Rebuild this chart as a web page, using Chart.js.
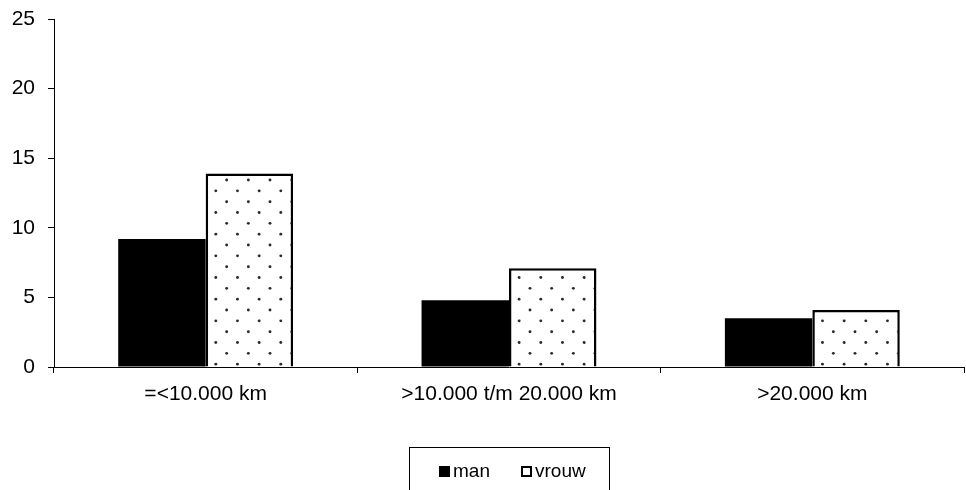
<!DOCTYPE html>
<html>
<head>
<meta charset="utf-8">
<script src="https://cdn.jsdelivr.net/npm/chart.js@4/dist/chart.umd.min.js"></script>
<style>
  html, body { margin: 0; padding: 0; background: #fff; }
  #wrap { width: 966px; height: 490px; position: relative; }
</style>
</head>
<body>
<div id="wrap"><canvas id="c" width="966" height="490"></canvas></div>
<script>
// Afstandsklassen en waarden per geslacht
const categories = ['=<10.000 km', '>10.000 t/m 20.000 km', '>20.000 km'];
const manValues = [9.2, 4.8, 3.5];
const vrouwValues = [13.9, 7.1, 4.1];
const seriesNames = ['man', 'vrouw'];
const yTicks = [0, 5, 10, 15, 20, 25];

const FONT = '"Liberation Sans", Arial, Helvetica, sans-serif';

// Dotted fill for the "vrouw" bars: staggered grid of small dots
function dotPattern() {
  const size = 65, step = size / 3;
  const t = document.createElement('canvas');
  t.width = size; t.height = size;
  const g = t.getContext('2d');
  g.fillStyle = '#fff';
  g.fillRect(0, 0, size, size);
  g.fillStyle = '#2a2a2a';
  const dot = (x, y) => {
    g.beginPath();
    g.arc(x, y, 1.45, 0, Math.PI * 2);
    g.fill();
  };
  for (let i = -1; i <= 3; i++) {
    for (let j = -1; j <= 3; j++) {
      dot(10.0 + i * step, 6.7 + j * step);
      dot(20.8 + i * step, 17.5 + j * step);
    }
  }
  return g.createPattern(t, 'repeat');
}

const ctx = document.getElementById('c').getContext('2d');

// Boxed legend below the plot, drawn from the dataset labels
const boxedLegend = {
  id: 'boxedLegend',
  afterDraw(chart) {
    const c = chart.ctx;
    const ds = chart.data.datasets;
    c.save();
    c.strokeStyle = '#000';
    c.lineWidth = 1;
    c.strokeRect(409.5, 447.5, 200, 60);
    c.font = '19px ' + FONT;
    c.textBaseline = 'alphabetic';
    const xs = [439, 521];
    ds.forEach((d, i) => {
      const x = xs[i];
      if (i === 0) {
        c.fillStyle = '#000';
        c.fillRect(x, 466, 11, 11);
      } else {
        c.fillStyle = '#fff';
        c.fillRect(x, 466, 11, 11);
        c.strokeStyle = '#000';
        c.lineWidth = 2;
        c.strokeRect(x + 1, 467, 9, 9);
      }
      c.fillStyle = '#000';
      c.fillText(d.label, x + 14, 477);
    });
    c.restore();
  }
};

new Chart(ctx, {
  type: 'bar',
  data: {
    labels: categories,
    datasets: [
      {
        label: seriesNames[0],
        data: manValues,
        backgroundColor: '#000',
        borderColor: '#000',
        borderWidth: 0
      },
      {
        label: seriesNames[1],
        data: vrouwValues,
        backgroundColor: dotPattern(),
        borderColor: '#000',
        borderWidth: 2.5
      }
    ]
  },
  options: {
    responsive: false,
    animation: false,
    devicePixelRatio: 1,
    layout: { autoPadding: false, padding: { top: 19, right: 2, left: 0, bottom: 0 } },
    datasets: {
      bar: { categoryPercentage: 0.5766, barPercentage: 1.0 }
    },
    plugins: {
      legend: { display: false },
      tooltip: { enabled: false },
      title: { display: false }
    },
    scales: {
      x: {
        afterFit(scale) {
          scale.height = 123;
          scale.paddingLeft = 0;
          scale.paddingRight = 0;
        },
        grid: {
          offset: true,
          drawOnChartArea: false,
          drawTicks: true,
          tickLength: 6,
          color: '#000',
          lineWidth: 1
        },
        border: { display: true, color: '#000', width: 1 },
        ticks: {
          color: '#000',
          padding: 9,
          maxRotation: 0,
          autoSkip: false,
          font: { family: FONT, size: 21 }
        }
      },
      y: {
        min: 0,
        max: 25,
        afterFit(scale) {
          scale.width = 54;
          scale.paddingTop = 0;
          scale.paddingBottom = 0;
        },
        afterBuildTicks(scale) { scale.ticks = yTicks.map(v => ({ value: v })); },
        grid: {
          drawOnChartArea: false,
          drawTicks: true,
          tickLength: 6,
          color: '#000',
          lineWidth: 1
        },
        border: { display: true, color: '#000', width: 1 },
        ticks: {
          color: '#000',
          padding: 13,
          font: { family: FONT, size: 21 }
        }
      }
    }
  },
  plugins: [boxedLegend]
});
</script>
</body>
</html>
